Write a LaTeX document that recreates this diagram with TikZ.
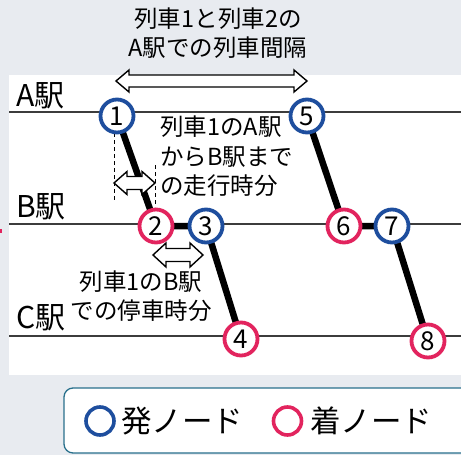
\documentclass[tikz,border=0pt]{standalone}
\usepackage{fontspec}
\setmainfont{Noto Sans CJK JP}
\definecolor{bg}{RGB}{232,235,240}
\definecolor{nblue}{RGB}{30,78,158}
\definecolor{nred}{RGB}{226,36,94}
\definecolor{teal}{RGB}{40,112,140}
\definecolor{stline}{RGB}{60,60,60}
\newcommand\hollowdbl[6]{%
  \draw[harrow] (#1,#3) -- ({#1+#4},{#3-#5}) -- ({#1+#4},{#3-#6}) -- ({#2-#4},{#3-#6}) -- ({#2-#4},{#3-#5}) -- (#2,#3)
    -- ({#2-#4},{#3+#5}) -- ({#2-#4},{#3+#6}) -- ({#1+#4},{#3+#6}) -- ({#1+#4},{#3+#5}) -- cycle;}
\begin{document}
\begin{tikzpicture}[x=1pt,y=-1pt,
  nd/.style={circle,fill=white,line width=3.8pt,minimum size=33pt,inner sep=0pt,font=\fontsize{26}{26}\selectfont},
  dep/.style={nd,draw=nblue},
  arrv/.style={nd,draw=nred},
  train/.style={line width=6.5pt,black},
  station/.style={line width=1.2pt,stline},
  harrow/.style={line width=1.4pt,fill=white,draw=black,line join=miter},
  guide/.style={line width=0.9pt,dash pattern=on 4pt off 3pt},
  txt/.style={inner sep=0pt,font=\fontsize{23.5}{29.5}\selectfont},
  stlabel/.style={inner sep=0pt,anchor=west,font=\fontsize{30}{30}\selectfont},
  lgtext/.style={inner sep=0pt,anchor=west,font=\fontsize{30.5}{31}\selectfont},
  lgc/.style={circle,line width=3.6pt,minimum size=28pt,inner sep=0pt}]
\useasboundingbox (0,0) rectangle (461,455);
\clip (0,0) rectangle (461,455);
\fill[bg] (0,0) rectangle (461,455);
\fill[white] (9,75) rectangle (461,375);
\fill[nred] (0,229) rectangle (1.5,233);
% station lines
\coordinate (a0) at (9,112); \coordinate (a1) at (461,112);
\coordinate (b0) at (9,224); \coordinate (b1) at (461,224);
\coordinate (c0) at (9,336); \coordinate (c1) at (461,336);
\draw[station] (a0) -- (a1);
\draw[station] (b0) -- (b1);
\draw[station] (c0) -- (c1);
\node[stlabel] (la) at (16,96) {A駅};
\node[stlabel] (lb) at (16,207) {B駅};
\node[stlabel] (lc) at (16,318) {C駅};
% guides
\coordinate (g1a) at (114,133); \coordinate (g1b) at (114,200);
\coordinate (g2a) at (155,165); \coordinate (g2b) at (155,207);
\draw[guide] (g1a) -- (g1b);
\draw[guide] (g2a) -- (g2b);
% train lines
\coordinate (p1) at (117,116); \coordinate (p2) at (156,226);
\coordinate (p3) at (206,226); \coordinate (p4) at (241,339);
\coordinate (p5) at (307,116); \coordinate (p6) at (344,226);
\coordinate (p7) at (392,226); \coordinate (p8) at (428,341);
\draw[train] (p1) -- (p2) -- (p3) -- (p4);
\draw[train] (p5) -- (p6) -- (p7) -- (p8);
% nodes
\node[dep] (n1) at (p1) {1};
\node[arrv] (n2) at (p2) {2};
\node[dep] (n3) at (p3) {3};
\node[arrv] (n4) at (p4) {4};
\node[dep] (n5) at (p5) {5};
\node[arrv] (n6) at (p6) {6};
\node[dep] (n7) at (p7) {7};
\node[arrv] (n8) at (p8) {8};
% hollow arrows
\hollowdbl{116}{307}{81}{13}{11}{6}
\hollowdbl{114}{155}{183}{13}{11.5}{6.5}
\hollowdbl{153}{203}{255}{13}{12}{6.5}
% texts
\node[txt,align=center] (t1) at (218,33) {列車1と列車2の\\A駅での列車間隔};
\node[txt,align=left,anchor=north west] (t2) at (160,116) {列車1のA駅\\からB駅まで\\の走行時分};
\node[txt,align=center] (t3) at (141,296) {列車1のB駅\\での停車時分};
% legend
\draw[teal,line width=1.3pt,fill=white,rounded corners=9pt] (64,388) rectangle (480,453);
\node[lgc,draw=nblue] (lg1) at (100,421) {};
\node[lgtext] (lt1) at (121,421) {発ノード};
\node[lgc,draw=nred] (lg2) at (287.5,421) {};
\node[lgtext] (lt2) at (310,421) {着ノード};
\end{tikzpicture}
\end{document}
